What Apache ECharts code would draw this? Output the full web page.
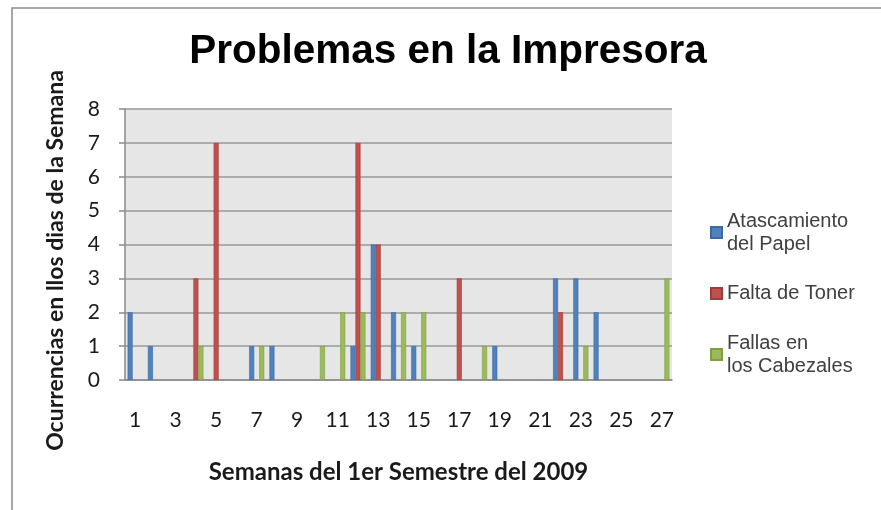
<!DOCTYPE html>
<html>
<head>
<meta charset="utf-8">
<title>Problemas en la Impresora</title>
<script src="https://cdn.jsdelivr.net/npm/echarts@6/dist/echarts.min.js"></script>
<style>
  html, body { margin: 0; padding: 0; background: #fff; }
  #chart { width: 881px; height: 510px; }
</style>
</head>
<body>
<div id="chart"></div>
<script>
// semanas del 1er semestre
var weeks = ['1', '2', '3', '4', '5', '6', '7', '8', '9', '10', '11', '12', '13', '14',
  '15', '16', '17', '18', '19', '20', '21', '22', '23', '24', '25', '26', '27']

// ocurrencias por semana (null = sin datos)
var atascamiento = [2, 1, null, null, null, null, 1, 1, null, null, null, 1, 4, 2,
  1, null, null, null, 1, null, null, 3, 3, 2, null, null, null]
var toner = [null, null, null, 3, 7, null, null, null, null, null, null, 7, 4, null,
  null, null, 3, null, null, null, null, 2, null, null, null, null, null]
var cabezales = [null, null, null, 1, null, null, 1, null, null, 1, 2, 2, null, 2,
  2, null, null, 1, null, null, null, null, 1, null, null, null, 3]

var yTicks = [0, 1, 2, 3, 4, 5, 6, 7, 8]

var chart = echarts.init(document.getElementById('chart'))

var labelFont = 'Lato, "Open Sans", sans-serif'

chart.setOption({
  animation: false,
  title: {
    text: 'Problemas en la Impresora',
    left: 443,
    top: 26,
    textAlign: 'center',
    textStyle: {
      fontFamily: '"Liberation Sans", Arial, sans-serif',
      fontWeight: 'bold',
      fontSize: 40.5,
      color: '#000'
    }
  },
  graphic: [{
    type: 'rect',
    silent: true,
    shape: { x: 12, y: 8, width: 900, height: 600 },
    style: { fill: 'none', stroke: '#8a8a8a', lineWidth: 1.5 }
  }],
  legend: {
    orient: 'vertical',
    left: 705,
    top: 193,
    itemWidth: 11,
    itemHeight: 11,
    itemGap: 15,
    textStyle: {
      fontFamily: '"Liberation Sans", Arial, sans-serif',
      fontSize: 20,
      lineHeight: 23,
      color: '#404040'
    },
    data: [
      { name: 'Atascamiento\ndel Papel', icon: 'rect', textStyle: { padding: [23, 0, 0, 0] } },
      { name: 'Falta de Toner', icon: 'rect' },
      { name: 'Fallas en\nlos Cabezales', icon: 'rect', textStyle: { padding: [23, 0, 0, 0] } }
    ]
  },
  grid: {
    left: 125,
    right: 209,
    top: 109,
    bottom: 130,
    show: true,
    backgroundColor: '#e6e6e6',
    borderWidth: 0
  },
  xAxis: {
    type: 'category',
    data: weeks,
    name: 'Semanas del 1er Semestre del 2009',
    nameLocation: 'middle',
    nameGap: 80,
    nameTextStyle: {
      fontFamily: labelFont,
      fontWeight: 'bold',
      fontSize: 24,
      color: '#1a1a1a'
    },
    axisLine: { lineStyle: { color: '#8a8a8a', width: 1.5 } },
    axisTick: { show: false },
    axisLabel: {
      interval: 1,
      margin: 30,
      fontFamily: labelFont,
      fontSize: 21,
      color: '#1a1a1a'
    }
  },
  yAxis: {
    type: 'value',
    min: yTicks[0],
    max: yTicks[yTicks.length - 1],
    interval: 1,
    name: 'Ocurrencias en llos dias de la Semana',
    nameLocation: 'middle',
    nameGap: 58,
    nameTextStyle: {
      fontFamily: labelFont,
      fontWeight: 'bold',
      fontSize: 23,
      color: '#1a1a1a',
      padding: [0, 32, 0, 0]
    },
    axisLine: { show: true, lineStyle: { color: '#8a8a8a', width: 1.5 } },
    axisTick: { show: true, length: 6, lineStyle: { color: '#8a8a8a', width: 1.5 } },
    axisLabel: {
      margin: 25,
      fontFamily: labelFont,
      fontSize: 21,
      color: '#1a1a1a'
    },
    splitLine: { lineStyle: { color: '#999', width: 1.5 } }
  },
  series: [
    {
      name: 'Atascamiento\ndel Papel',
      type: 'bar',
      data: atascamiento,
      barWidth: 5,
      barGap: '0%',
      itemStyle: { color: '#4f81bd', borderColor: '#3a6aa3', borderWidth: 0.6 }
    },
    {
      name: 'Falta de Toner',
      type: 'bar',
      data: toner,
      barWidth: 5,
      barGap: '0%',
      itemStyle: { color: '#c0504d', borderColor: '#a03c39', borderWidth: 0.6 }
    },
    {
      name: 'Fallas en\nlos Cabezales',
      type: 'bar',
      data: cabezales,
      barWidth: 5,
      barGap: '0%',
      itemStyle: { color: '#9bbb59', borderColor: '#7f9d44', borderWidth: 0.6 }
    }
  ]
})
</script>
</body>
</html>
